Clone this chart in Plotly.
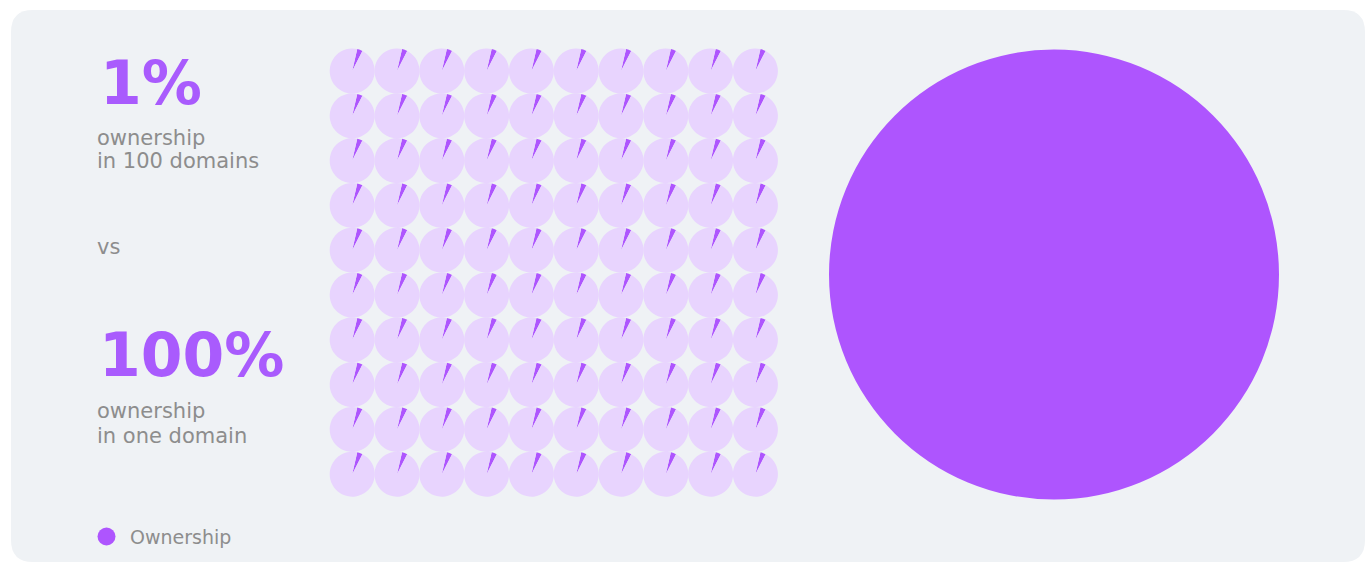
import plotly.graph_objects as go

# ---- data -------------------------------------------------------------
domain_count = 100                 # number of small domains in the grid
small_share_pct = 1                # ownership held in each small domain
big_share_pct = 100                # ownership held in the single domain
headline_labels = ["1%", "100%"]
caption_lines_small = ["ownership", "in 100 domains"]
caption_lines_big = ["ownership", "in one domain"]
separator_label = "vs"
legend_label = "Ownership"

# ---- style ------------------------------------------------------------
W, H = 1367, 563
PURPLE = "#AE55FE"
HEADLINE = "#A95BFD"
LAVENDER = "#E8D4FE"
PANEL = "#EFF2F5"
GRAY = "#8D8D8D"
FONT = "DejaVu Sans"
MIN_WEDGE_DEG = 14                 # smallest sector angle drawn, so a thin share stays visible
START_DEG = 13                     # where the first sector starts, clockwise from 12 o'clock

GRID_COLS = 10
GRID_X0, GRID_Y0 = 352.2, 71.0     # centre of the top-left small pie (px)
GRID_STEP = 44.8
SMALL_D = 45.0
BIG_CX, BIG_CY, BIG_D = 1054.0, 274.6, 450.0


def px_x(x):
    return x / W


def px_y(y):
    return 1 - y / H


def domain_for(cx, cy, d):
    return dict(x=[px_x(cx - d / 2), px_x(cx + d / 2)],
                y=[px_y(cy + d / 2), px_y(cy - d / 2)])


fig = go.Figure()

# small pies: one per domain, each showing the 1% share
wedge_pct = max(small_share_pct, MIN_WEDGE_DEG / 360 * 100)
for i in range(domain_count):
    r, c = divmod(i, GRID_COLS)
    cx = GRID_X0 + GRID_STEP * c
    cy = GRID_Y0 + GRID_STEP * r
    fig.add_trace(go.Pie(
        values=[wedge_pct, 100 - wedge_pct],
        labels=["Ownership", "Other"],
        marker=dict(colors=[PURPLE, LAVENDER], line=dict(width=0)),
        sort=False, direction="clockwise", rotation=START_DEG,
        textinfo="none", hoverinfo="skip", showlegend=False,
        domain=domain_for(cx, cy, SMALL_D),
    ))

# the single fully-owned domain
fig.add_trace(go.Pie(
    values=[big_share_pct, 100 - big_share_pct],
    labels=["Ownership", "Other"],
    marker=dict(colors=[PURPLE, LAVENDER], line=dict(width=0)),
    sort=False, direction="clockwise",
    textinfo="none", hoverinfo="skip", showlegend=False,
    domain=domain_for(BIG_CX, BIG_CY, BIG_D),
))

# rounded panel behind everything
x0, x1, y0, y1, rad = 11, 1365, 10, 562, 22
pts = [
    ("M", x0 + rad, y0), ("L", x1 - rad, y0), ("Q", x1, y0, x1, y0 + rad),
    ("L", x1, y1 - rad), ("Q", x1, y1, x1 - rad, y1),
    ("L", x0 + rad, y1), ("Q", x0, y1, x0, y1 - rad),
    ("L", x0, y0 + rad), ("Q", x0, y0, x0 + rad, y0),
]
path = ""
for p in pts:
    cmd, coords = p[0], p[1:]
    xy = []
    for k in range(0, len(coords), 2):
        xy.append(f"{px_x(coords[k]):.6f},{px_y(coords[k + 1]):.6f}")
    path += cmd + " " + " ".join(xy) + " "
path += "Z"

shapes = [
    dict(type="path", xref="paper", yref="paper", path=path,
         fillcolor=PANEL, line=dict(width=0), layer="below"),
    dict(type="circle", xref="paper", yref="paper",
         x0=px_x(106.5 - 9), x1=px_x(106.5 + 9),
         y0=px_y(536.5 + 9), y1=px_y(536.5 - 9),
         fillcolor=PURPLE, line=dict(width=0), layer="above"),
]

ASC_OFF = 0.346  # distance from baseline to text-box centre, in em


def label(text, x, baseline, size, color, weight=400):
    return dict(text=text, x=px_x(x), y=px_y(baseline - ASC_OFF * size),
                xref="paper", yref="paper", xanchor="left", yanchor="middle",
                showarrow=False, borderpad=0,
                font=dict(family=FONT, size=size, color=color, weight=weight))


annotations = [
    label(headline_labels[0], 99, 104, 60, HEADLINE, 700),
    label(caption_lines_small[0], 96, 145, 21, GRAY),
    label(caption_lines_small[1], 96, 168.3, 21, GRAY),
    label(separator_label, 96, 254, 21, GRAY),
    label(headline_labels[1], 98, 376, 60, HEADLINE, 700),
    label(caption_lines_big[0], 96, 418.4, 21, GRAY),
    label(caption_lines_big[1], 96, 443.5, 21, GRAY),
    label(legend_label, 129, 544, 19, GRAY),
]

fig.update_layout(
    width=W, height=H,
    margin=dict(l=0, r=0, t=0, b=0),
    paper_bgcolor="white", plot_bgcolor="white",
    showlegend=False,
    shapes=shapes,
    annotations=annotations,
)

fig.write_html("out.html")
